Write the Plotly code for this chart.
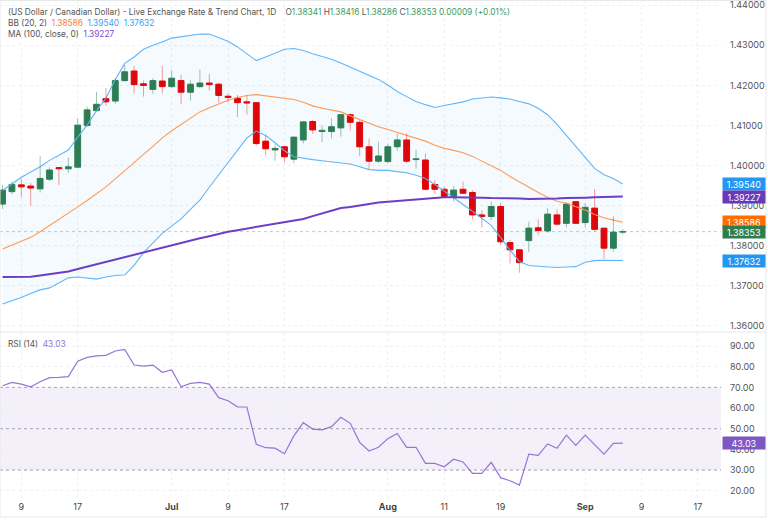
import numpy as np
import pandas as pd
import plotly.graph_objects as go

# --- datos (USD/CAD diario, 5 jun - 5 sep 2025) ---
opens = [1.3904, 1.3935, 1.3952, 1.3949, 1.3942, 1.3966, 1.3995, 1.3992, 1.3996, 1.4100,
         1.4137, 1.4167, 1.4161, 1.4212, 1.4236, 1.4204, 1.4190, 1.4211, 1.4197, 1.4212,
         1.4183, 1.4197, 1.4206, 1.4203, 1.4173, 1.4168, 1.4159, 1.4157, 1.4061, 1.4039,
         1.4047, 1.4016, 1.4064, 1.4110, 1.4085, 1.4085, 1.4094, 1.4127, 1.4108, 1.4047,
         1.4011, 1.4010, 1.4047, 1.4064, 1.4015, 1.4014, 1.3953, 1.3941, 1.3923, 1.3941,
         1.3933, 1.3877, 1.3873, 1.3898, 1.3808, 1.3790, 1.3813, 1.3845, 1.3837, 1.3877,
         1.3856, 1.3910, 1.3858, 1.3894, 1.3844, 1.3794, 1.38341]
highs = [1.3952, 1.3960, 1.3968, 1.3957, 1.4024, 1.3996, 1.3996, 1.4020, 1.4119, 1.4147,
         1.4184, 1.4193, 1.4218, 1.4251, 1.4249, 1.4212, 1.4218, 1.4249, 1.4238, 1.4226,
         1.4214, 1.4240, 1.4228, 1.4207, 1.4180, 1.4176, 1.4174, 1.4157, 1.4076, 1.4054,
         1.4049, 1.4072, 1.4111, 1.4114, 1.4101, 1.4118, 1.4127, 1.4131, 1.4113, 1.4068,
         1.4060, 1.4055, 1.4080, 1.4080, 1.4039, 1.4031, 1.3964, 1.3947, 1.3949, 1.3960,
         1.3939, 1.3889, 1.3910, 1.3907, 1.3815, 1.3790, 1.3860, 1.3866, 1.3894, 1.3891,
         1.3908, 1.3912, 1.3907, 1.3942, 1.3845, 1.3873, 1.38416]
lows = [1.3892, 1.3929, 1.3921, 1.3900, 1.3933, 1.3962, 1.3952, 1.3982, 1.3994, 1.4097,
        1.4135, 1.4149, 1.4154, 1.4209, 1.4180, 1.4172, 1.4179, 1.4180, 1.4193, 1.4153,
        1.4162, 1.4193, 1.4187, 1.4157, 1.4158, 1.4121, 1.4127, 1.4049, 1.4026, 1.4012,
        1.4008, 1.4006, 1.4055, 1.4079, 1.4059, 1.4068, 1.4072, 1.4087, 1.4024, 1.3991,
        1.4006, 1.4006, 1.4037, 1.4006, 1.3992, 1.3939, 1.3929, 1.3919, 1.3910, 1.3929,
        1.3866, 1.3846, 1.3864, 1.3802, 1.3756, 1.3733, 1.3785, 1.3827, 1.3833, 1.3850,
        1.3846, 1.3855, 1.3846, 1.3835, 1.3767, 1.3785, 1.38286]
closes = [1.3939, 1.3953, 1.3947, 1.3944, 1.3968, 1.3989, 1.3992, 1.3997, 1.4101, 1.4139,
          1.4153, 1.4159, 1.4212, 1.4234, 1.4202, 1.4200, 1.4212, 1.4197, 1.4218, 1.4183,
          1.4203, 1.4206, 1.4202, 1.4175, 1.4170, 1.4157, 1.4156, 1.4055, 1.4042, 1.4043,
          1.4022, 1.4071, 1.4109, 1.4089, 1.4088, 1.4097, 1.4127, 1.4108, 1.4047, 1.4011,
          1.4024, 1.4047, 1.4064, 1.4011, 1.4017, 1.3941, 1.3941, 1.3923, 1.3939, 1.3931,
          1.3877, 1.3873, 1.3898, 1.3810, 1.3790, 1.3758, 1.3844, 1.3838, 1.3879, 1.3854,
          1.3904, 1.3856, 1.3896, 1.3841, 1.3794, 1.3834, 1.38353]

bb_upper = [1.3938, 1.3955, 1.3971, 1.3984, 1.3997, 1.4013, 1.4027, 1.4039, 1.4071, 1.4101,
            1.4137, 1.4168, 1.4215, 1.4255, 1.4271, 1.4290, 1.4300, 1.4308, 1.4318, 1.4321,
            1.4325, 1.4328, 1.4328, 1.4319, 1.4310, 1.4296, 1.4280, 1.4262, 1.4271, 1.4281,
            1.4290, 1.4292, 1.4287, 1.4279, 1.4272, 1.4265, 1.4256, 1.4246, 1.4235, 1.4227,
            1.4215, 1.4201, 1.4185, 1.4172, 1.4160, 1.4152, 1.4145, 1.4150, 1.4155, 1.4159,
            1.4166, 1.4169, 1.4171, 1.4169, 1.4166, 1.4160, 1.4154, 1.4143, 1.4127, 1.4103,
            1.4075, 1.4047, 1.4019, 1.3993, 1.3977, 1.3968, 1.39540]
bb_middle = [1.3792, 1.3802, 1.3811, 1.3821, 1.3835, 1.3850, 1.3866, 1.3882, 1.3897, 1.3913,
             1.3929, 1.3947, 1.3967, 1.3988, 1.4008, 1.4028, 1.4048, 1.4069, 1.4087, 1.4103,
             1.4119, 1.4134, 1.4144, 1.4153, 1.4163, 1.4170, 1.4175, 1.4177, 1.4174, 1.4171,
             1.4169, 1.4165, 1.4158, 1.4149, 1.4143, 1.4139, 1.4134, 1.4124, 1.4115, 1.4105,
             1.4097, 1.4090, 1.4083, 1.4076, 1.4069, 1.4061, 1.4051, 1.4043, 1.4038, 1.4032,
             1.4023, 1.4012, 1.4000, 1.3988, 1.3973, 1.3959, 1.3945, 1.3933, 1.3921, 1.3911,
             1.3906, 1.3898, 1.3889, 1.3878, 1.3870, 1.3864, 1.38586]
bb_lower = [1.3655, 1.3663, 1.3671, 1.3681, 1.3690, 1.3695, 1.3707, 1.3720, 1.3722, 1.3720,
            1.3717, 1.3722, 1.3726, 1.3727, 1.3751, 1.3783, 1.3807, 1.3831, 1.3849, 1.3867,
            1.3891, 1.3914, 1.3946, 1.3976, 1.4006, 1.4036, 1.4069, 1.4086, 1.4075, 1.4057,
            1.4037, 1.4022, 1.4018, 1.4015, 1.4012, 1.4009, 1.4007, 1.4004, 1.3997, 1.3990,
            1.3988, 1.3988, 1.3985, 1.3982, 1.3976, 1.3968, 1.3953, 1.3937, 1.3921, 1.3903,
            1.3886, 1.3869, 1.3851, 1.3821, 1.3789, 1.3761, 1.3751, 1.3749, 1.3747, 1.3746,
            1.3747, 1.3748, 1.3759, 1.3763, 1.3764, 1.3764, 1.37632]
ma100 = [1.3722, 1.3722, 1.3723, 1.3723, 1.3726, 1.3729, 1.3732, 1.3736, 1.3742, 1.3748,
         1.3754, 1.3760, 1.3766, 1.3772, 1.3778, 1.3784, 1.3789, 1.3795, 1.3801, 1.3807,
         1.3813, 1.3819, 1.3824, 1.3830, 1.3835, 1.3839, 1.3843, 1.3846, 1.3850, 1.3854,
         1.3858, 1.3862, 1.3867, 1.3874, 1.3881, 1.3887, 1.3894, 1.3897, 1.3901, 1.3905,
         1.3908, 1.3910, 1.3912, 1.3914, 1.3916, 1.3918, 1.3920, 1.3921, 1.3921, 1.3921,
         1.3921, 1.3920, 1.3919, 1.3919, 1.3918, 1.3918, 1.3917, 1.3917, 1.3918, 1.3918,
         1.3919, 1.3919, 1.3920, 1.3921, 1.3922, 1.3922, 1.39227]
rsi = [70.8, 72.4, 71.6, 70.3, 72.7, 74.7, 74.8, 75.2, 82.7, 84.5,
       85.2, 85.5, 87.6, 88.4, 80.8, 80.3, 80.8, 77.3, 78.4, 70.3,
       71.9, 72.4, 71.6, 65.0, 63.5, 60.6, 60.5, 42.4, 40.8, 40.6,
       37.9, 46.5, 52.9, 49.8, 49.4, 51.0, 55.5, 52.6, 43.4, 39.2,
       41.0, 45.2, 47.7, 41.0, 41.0, 33.2, 33.2, 31.6, 35.2, 33.9,
       28.4, 28.4, 33.7, 26.3, 24.8, 22.7, 37.7, 37.1, 42.6, 40.5,
       46.9, 41.9, 46.9, 42.1, 37.7, 42.9, 43.03]

# calendario de días hábiles (el eje salta fines de semana)
axis_days = pd.bdate_range("2025-06-05", "2025-09-19")
tick_dates = ["2025-06-09", "2025-06-17", "2025-07-01", "2025-07-09", "2025-07-17",
              "2025-08-01", "2025-08-11", "2025-08-19", "2025-09-01", "2025-09-09", "2025-09-17"]
tick_text = ["9", "17", "<b>Jul</b>", "9", "17", "<b>Aug</b>", "11", "19", "<b>Sep</b>", "9", "17"]
price_ticks = [1.36, 1.37, 1.38, 1.39, 1.40, 1.41, 1.42, 1.43, 1.44]
rsi_ticks = [20, 30, 40, 50, 60, 70, 80, 90]

COLORS = {
    "up": "#2E7D4F",
    "down": "#E60000",
    "up_wick": "rgba(46,125,79,0.45)",
    "down_wick": "rgba(230,0,0,0.38)",
    "bb_band": "#64B5F6",
    "bb_mid": "#FF9A52",
    "bb_fill": "rgba(33,150,243,0.05)",
    "ma": "#6A3FC4",
    "rsi": "#9575D6",
    "grid": "#EEF0F3",
    "text": "#555555",
}
FONT = "Inter, Roboto, sans-serif"

n = len(opens)
x = np.arange(n)
o, h, l, c = map(np.array, (opens, highs, lows, closes))
up = c >= o
tickvals = axis_days.get_indexer(pd.to_datetime(tick_dates))

fig = go.Figure()

# Bandas de Bollinger + MA
fig.add_trace(go.Scatter(x=x, y=bb_upper, mode="lines", line=dict(color=COLORS["bb_band"], width=1.1),
                         hoverinfo="skip"))
fig.add_trace(go.Scatter(x=x, y=bb_lower, mode="lines", line=dict(color=COLORS["bb_band"], width=1.1),
                         fill="tonexty", fillcolor=COLORS["bb_fill"], hoverinfo="skip"))
fig.add_trace(go.Scatter(x=x, y=bb_middle, mode="lines", line=dict(color=COLORS["bb_mid"], width=1.1),
                         hoverinfo="skip"))
fig.add_trace(go.Scatter(x=x, y=ma100, mode="lines", line=dict(color=COLORS["ma"], width=2),
                         hoverinfo="skip"))

# mechas (más claras) y cuerpos de las velas
for mask, col in ((up, COLORS["up_wick"]), (~up, COLORS["down_wick"])):
    wx, wy = [], []
    for i in x[mask]:
        wx += [i, i, None]
        wy += [l[i], h[i], None]
    fig.add_trace(go.Scatter(x=wx, y=wy, mode="lines", line=dict(color=col, width=1), hoverinfo="skip"))

body_colors = [COLORS["up"] if u else COLORS["down"] for u in up]
fig.add_trace(go.Bar(x=x, y=np.abs(c - o), base=np.minimum(o, c), width=0.62,
                     marker=dict(color=body_colors, line=dict(color=body_colors, width=1))))

# RSI
fig.add_trace(go.Scatter(x=x, y=rsi, mode="lines", line=dict(color=COLORS["rsi"], width=1.2),
                         xaxis="x2", yaxis="y2", hoverinfo="skip"))

axis_common = dict(range=[-0.27, 76.45], tickvals=tickvals, showgrid=True, gridcolor=COLORS["grid"],
                   griddash="dot", zeroline=False, showline=False, ticks="")
fig.update_layout(
    width=768, height=523,
    margin=dict(l=0, r=47, t=0, b=23),
    paper_bgcolor="white", plot_bgcolor="white",
    showlegend=False, barmode="overlay",
    font=dict(family=FONT, size=9, color=COLORS["text"]),
    xaxis=dict(axis_common, anchor="y", showticklabels=False),
    xaxis2=dict(axis_common, anchor="y2", matches="x", ticktext=tick_text,
                tickfont=dict(size=9, color="#444444")),
    yaxis=dict(domain=[0.338, 1], range=[1.35875, 1.4413], side="right", tickvals=price_ticks,
               tickformat=".5f", showgrid=True, gridcolor=COLORS["grid"], griddash="dot",
               zeroline=False, ticks="", ticklabelstandoff=8, ticklabeloverflow="allow"),
    yaxis2=dict(domain=[0, 0.334], range=[15.5, 96.3], side="right", tickvals=rsi_ticks,
                tickformat=".2f", showgrid=True, gridcolor=COLORS["grid"], griddash="dot",
                zeroline=False, ticks="", ticklabelstandoff=8),
)

# zona RSI 30-70 y guías
fig.add_shape(type="rect", xref="x2 domain", yref="y2", x0=0, x1=1, y0=30, y1=70,
              fillcolor="rgba(126,87,194,0.09)", line_width=0, layer="below")
for lvl in (30, 50, 70):
    fig.add_shape(type="line", xref="x2 domain", yref="y2", x0=0, x1=1, y0=lvl, y1=lvl,
                  line=dict(color="rgba(120,115,140,0.6)", width=1, dash="3px,3px"))

# línea de precio actual
fig.add_shape(type="line", xref="x domain", yref="y", x0=0, x1=1, y0=closes[-1], y1=closes[-1],
              line=dict(color="rgba(46,125,79,0.35)", width=1, dash="dot"))

# marco y separador
fig.add_shape(type="rect", xref="paper", yref="paper", x0=0, x1=766 / 721, y0=-17 / 500, y1=0.999,
              line=dict(color="#E6E8EC", width=1))
fig.add_shape(type="line", xref="paper", yref="paper", x0=0, x1=766 / 721, y0=168 / 500, y1=168 / 500,
              line=dict(color="#E6E8EC", width=1))

# etiquetas de último valor en el eje
last_labels = [
    (bb_upper[-1], "#2196F3", "y"),
    (ma100[-1], "#673AB7", "y"),
    (bb_middle[-1], "#FF6D00", "y"),
    (closes[-1], COLORS["up"], "y"),
    (bb_lower[-1], "#2196F3", "y"),
    (rsi[-1], "#7E57C2", "y2"),
]
for val, col, ref in last_labels:
    fig.add_annotation(xref="paper", x=1, xanchor="left", xshift=1, yref=ref, y=val,
                       text=f"{val:.2f}" if ref == "y2" else f"{val:.5f}", showarrow=False,
                       bgcolor=col, font=dict(color="white", size=9, family=FONT),
                       width=40, height=10, borderpad=1)


def span(txt, col):
    return f"<span style='color:{col}'>{txt}</span>"


g = "#3D9A62"
sp = "&nbsp;"
legend_rows = [
    (12.3, f"(US Dollar / Canadian Dollar) - Live Exchange Rate &amp; Trend Chart, 1D{sp * 4}"
           f"O{span('1.38341', g)}{sp}H{span('1.38416', g)}{sp}L{span('1.38286', g)}{sp}"
           f"C{span('1.38353', g)}{sp}{span('0.00009 (+0.01%)', g)}"),
    (23.3, f"BB (20, 2){sp * 2}{span('1.38586', '#FF7A2F')}{sp * 2}{span('1.39540', '#3A9FF0')}{sp * 2}"
           f"{span('1.37632', '#3A9FF0')}"),
    (34.0, f"MA (100, close, 0){sp * 2}{span('1.39227', '#7A4DD6')}"),
    (344.3, f"RSI (14){sp * 2}{span('43.03', '#9575D6')}"),
]
for ypix, txt in legend_rows:
    fig.add_annotation(xref="paper", yref="paper", x=6 / 721, y=(500 - ypix) / 500,
                       xanchor="left", yanchor="middle", text=txt, showarrow=False,
                       font=dict(size=8.3, color=COLORS["text"], family=FONT))

# quitar el margen por defecto del <body> para que el gráfico ocupe la ventana
fig.write_html("out.html", config={"displayModeBar": False},
               post_script="document.body.style.margin='0';")
